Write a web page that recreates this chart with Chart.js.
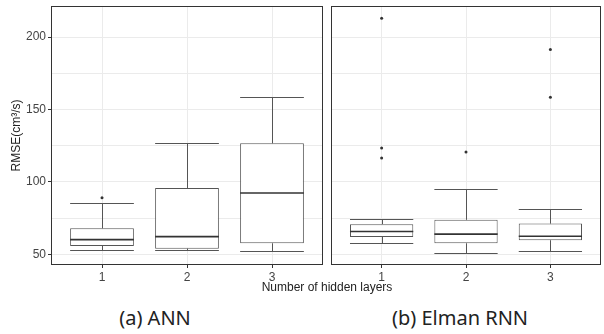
<!DOCTYPE html>
<html>
<head>
<meta charset="utf-8">
<script src="https://cdn.jsdelivr.net/npm/chart.js@4.4.1/dist/chart.umd.min.js"></script>
<style>
  html, body { margin: 0; padding: 0; background: #fff; overflow: hidden; }
  body { width: 604px; height: 334px; position: relative; font-family: "Liberation Sans", Arial, sans-serif; }
  #wrapAnn { position: absolute; left: 0; top: 0; width: 327px; height: 290px; }
  #wrapRnn { position: absolute; left: 327px; top: 0; width: 278px; height: 290px; }
  .axis-title { position: absolute; left: 0; width: 654px; top: 280px; text-align: center; font-size: 12px; color: #222; }
  .caption { position: absolute; top: 304px; width: 200px; text-align: center; font-family: "Noto Sans", sans-serif; font-size: 20px; color: #222; }
</style>
</head>
<body>
<div id="wrapAnn"><canvas id="annChart" width="327" height="290"></canvas></div>
<div id="wrapRnn"><canvas id="rnnChart" width="278" height="290"></canvas></div>
<div class="axis-title">Number of hidden layers</div>
<div class="caption" style="left:55px">(a) ANN</div>
<div class="caption" style="left:360px">(b) Elman RNN</div>

<script>
// categorias (numero de capas ocultas)
const layers = [1, 2, 3];

// ANN
const annLow = [52.8, 53.0, 52.1];
const annQ1 = [55.8, 53.9, 57.6];
const annMed = [60.1, 62.2, 92.3];
const annQ3 = [68.0, 95.8, 126.7];
const annHigh = [85.1, 127.0, 158.4];
const annOutliers = [[89], [], []];

// Elman RNN
const rnnLow = [57.8, 50.7, 52.3];
const rnnQ1 = [62.0, 57.6, 59.7];
const rnnMed = [65.7, 63.9, 62.5];
const rnnQ3 = [70.8, 73.8, 71.2];
const rnnHigh = [74.3, 95.1, 81.2];
const rnnOutliers = [[213, 123.5, 116.5], [120.7], [191.5, 158.4]];

// ejes
const majorTicks = [50, 100, 150, 200];
const minorTicks = [75, 125, 175];
const yMin = 42.6;
const yMax = 221.5;

const FONT = "'Liberation Sans', Arial, sans-serif";
const LINE = "#555";

// bigotes, medianas y borde del panel
function boxExtras(stats) {
  return {
    id: "boxExtras",
    beforeDatasetsDraw(chart) {
      const { ctx } = chart;
      const y = chart.scales.y;
      const meta = chart.getDatasetMeta(0);
      ctx.save();
      ctx.strokeStyle = LINE;
      ctx.lineWidth = 1;
      meta.data.forEach((bar, i) => {
        const x = Math.round(bar.x) + 0.5;
        const half = bar.width / 2;
        const yLow = Math.round(y.getPixelForValue(stats.low[i])) + 0.5;
        const yHigh = Math.round(y.getPixelForValue(stats.high[i])) + 0.5;
        ctx.beginPath();
        ctx.moveTo(x, yLow);
        ctx.lineTo(x, y.getPixelForValue(stats.q1[i]));
        ctx.moveTo(x, y.getPixelForValue(stats.q3[i]));
        ctx.lineTo(x, yHigh);
        ctx.moveTo(bar.x - half, yLow);
        ctx.lineTo(bar.x + half, yLow);
        ctx.moveTo(bar.x - half, yHigh);
        ctx.lineTo(bar.x + half, yHigh);
        ctx.stroke();
      });
      ctx.restore();
    },
    afterDatasetsDraw(chart) {
      const { ctx } = chart;
      const y = chart.scales.y;
      const meta = chart.getDatasetMeta(0);
      ctx.save();
      ctx.strokeStyle = "#333";
      ctx.lineWidth = 1.6;
      meta.data.forEach((bar, i) => {
        const half = bar.width / 2;
        const ym = y.getPixelForValue(stats.med[i]);
        ctx.beginPath();
        ctx.moveTo(bar.x - half, ym);
        ctx.lineTo(bar.x + half, ym);
        ctx.stroke();
      });
      ctx.restore();
    },
    afterDraw(chart) {
      const { ctx, chartArea: a } = chart;
      ctx.save();
      ctx.strokeStyle = "#333";
      ctx.lineWidth = 1;
      ctx.strokeRect(a.left + 0.5, a.top + 0.5, a.right - a.left - 1, a.bottom - a.top - 1);
      ctx.restore();
    },
  };
}

function makeBoxChart(canvasId, stats, outliers, showY) {
  const ctx = document.getElementById(canvasId).getContext("2d");
  return new Chart(ctx, {
    type: "bar",
    data: {
      datasets: [
        {
          type: "bar",
          data: layers.map((x, i) => ({ x: x, y: [stats.q1[i], stats.q3[i]] })),
          backgroundColor: "#fff",
          borderColor: LINE,
          borderWidth: 1,
          borderSkipped: false,
          barPercentage: 0.75,
          categoryPercentage: 1,
          grouped: false,
        },
        {
          type: "scatter",
          data: outliers.flatMap((arr, i) => arr.map((v) => ({ x: layers[i], y: v }))),
          pointRadius: 1.5,
          pointBackgroundColor: "#333",
          pointBorderWidth: 0,
        },
      ],
    },
    options: {
      responsive: false,
      animation: false,
      layout: { padding: { top: 6, right: 0, bottom: 0, left: showY ? 0 : 3 } },
      plugins: { legend: { display: false }, tooltip: { enabled: false } },
      scales: {
        x: {
          type: "linear",
          min: 0.4,
          max: 3.6,
          bounds: "data",
          offset: false,
          afterBuildTicks: (s) => {
            s.ticks = layers.map((v) => ({ value: v }));
          },
          afterFit: (s) => {
            s.height = 25;
            s.paddingLeft = 0;
            s.paddingRight = 0;
          },
          ticks: { font: { family: FONT, size: 12 }, color: "#444", padding: 2, maxRotation: 0 },
          grid: { offset: false, color: "#ebebeb", tickColor: "#333", tickLength: 3 },
          border: { display: false },
        },
        y: {
          type: "linear",
          min: yMin,
          max: yMax,
          bounds: "data",
          afterBuildTicks: (s) => {
            s.ticks = majorTicks.concat(minorTicks).sort((a, b) => a - b).map((v) => ({ value: v }));
          },
          afterFit: (s) => {
            s.width = showY ? 51 : 0;
            s.paddingTop = 0;
            s.paddingBottom = 0;
          },
          ticks: {
            display: showY,
            font: { family: FONT, size: 12 },
            color: "#444",
            padding: 2,
            callback: (v) => (majorTicks.includes(v) ? String(v) : ""),
          },
          grid: {
            color: "#ebebeb",
            drawTicks: showY,
            tickLength: 3,
            tickColor: (c) => (c.tick && majorTicks.includes(c.tick.value) ? "#333" : "rgba(0,0,0,0)"),
          },
          border: { display: false },
          title: {
            display: showY,
            text: "RMSE(cm³/s)",
            font: { family: FONT, size: 12 },
            color: "#222",
            padding: { top: 9, bottom: 0 },
          },
        },
      },
    },
    plugins: [boxExtras(stats)],
  });
}

makeBoxChart(
  "annChart",
  { low: annLow, q1: annQ1, med: annMed, q3: annQ3, high: annHigh },
  annOutliers,
  true
);
makeBoxChart(
  "rnnChart",
  { low: rnnLow, q1: rnnQ1, med: rnnMed, q3: rnnQ3, high: rnnHigh },
  rnnOutliers,
  false
);
</script>
</body>
</html>
